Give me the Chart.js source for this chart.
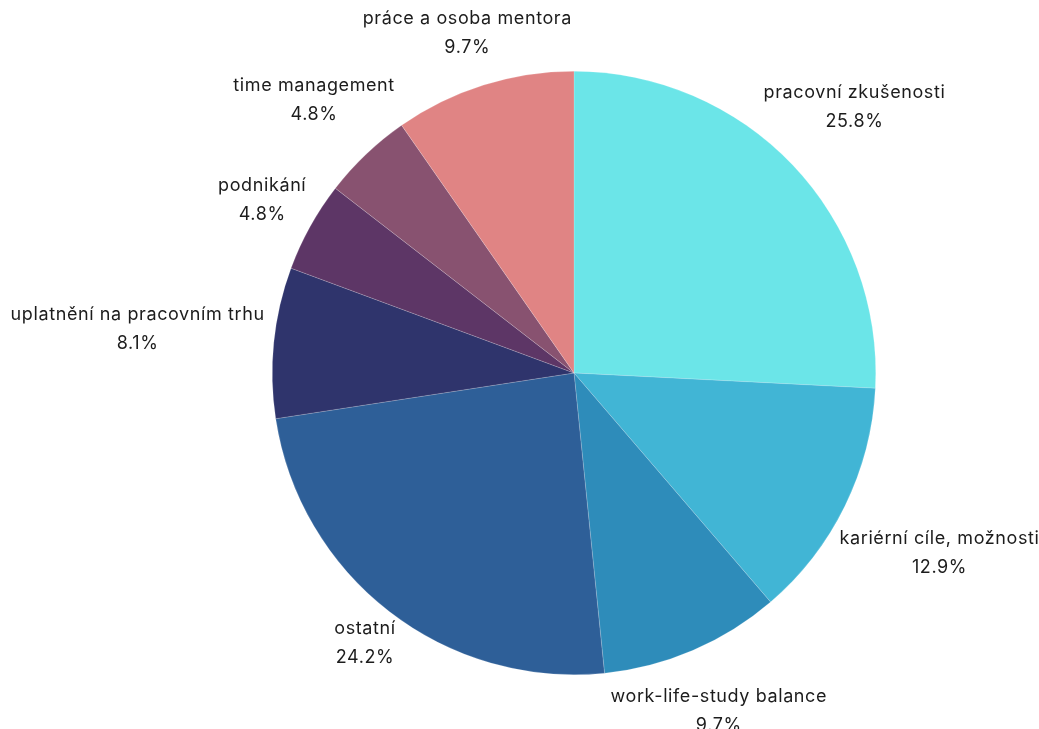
<!DOCTYPE html>
<html>
<head>
<meta charset="utf-8">
<script src="https://cdn.jsdelivr.net/npm/chart.js@4"></script>
<style>
  html, body { margin: 0; padding: 0; background: #ffffff; }
  #graf { display: block; }
</style>
</head>
<body>
<canvas id="graf" width="1039" height="729"></canvas>
<script>
// data z obrazku (pocty odpovedi, celkem 62)
const kategorie = [
  "pracovní zkušenosti",
  "kariérní cíle, možnosti",
  "work-life-study balance",
  "ostatní",
  "uplatnění na pracovním trhu",
  "podnikání",
  "time management",
  "práce a osoba mentora"
];
const hodnoty = [16, 8, 6, 15, 5, 3, 3, 6];
const procenta = ["25.8%", "12.9%", "9.7%", "24.2%", "8.1%", "4.8%", "4.8%", "9.7%"];
const barvy = ["#6be5e8", "#41b5d5", "#2e8cba", "#2e5f98", "#2f346c", "#5d3666", "#885270", "#e08484"];

const pismo = '18px Inter, sans-serif';

// popisky venku okolo kolace
const popiskyPlugin = {
  id: "popisky",
  afterDatasetsDraw(chart) {
    const c = chart.ctx;
    const meta = chart.getDatasetMeta(0);
    c.save();
    c.font = pismo;
    c.letterSpacing = "0.6px";
    c.fillStyle = "#1c1c1c";
    c.textAlign = "center";
    c.textBaseline = "middle";
    meta.data.forEach((arc, i) => {
      const uhel = (arc.startAngle + arc.endAngle) / 2;
      const ux = Math.cos(uhel);
      const uy = Math.sin(uhel);
      const sirka = Math.max(c.measureText(kategorie[i]).width, c.measureText(procenta[i]).width);
      const pul = sirka / 2;
      const vyska = 15;
      const dist = arc.outerRadius + 9 + pul * Math.abs(ux) + vyska * Math.abs(uy);
      const x = arc.x + ux * dist;
      const y = arc.y + uy * dist;
      c.fillText(kategorie[i], x, y - 14);
      c.fillText(procenta[i], x, y + 15);
    });
    c.restore();
  }
};

const ctx = document.getElementById("graf");
const myChart = new Chart(ctx, {
  type: "pie",
  data: {
    labels: kategorie,
    datasets: [{
      data: hodnoty,
      backgroundColor: barvy,
      borderWidth: 0.5,
      borderColor: "rgba(255,255,255,0.35)"
    }]
  },
  options: {
    responsive: false,
    animation: false,
    layout: { padding: { top: 71, bottom: 54, left: 200, right: 91 } },
    plugins: {
      legend: { display: false },
      tooltip: { enabled: false }
    }
  },
  plugins: [popiskyPlugin]
});
</script>
</body>
</html>
